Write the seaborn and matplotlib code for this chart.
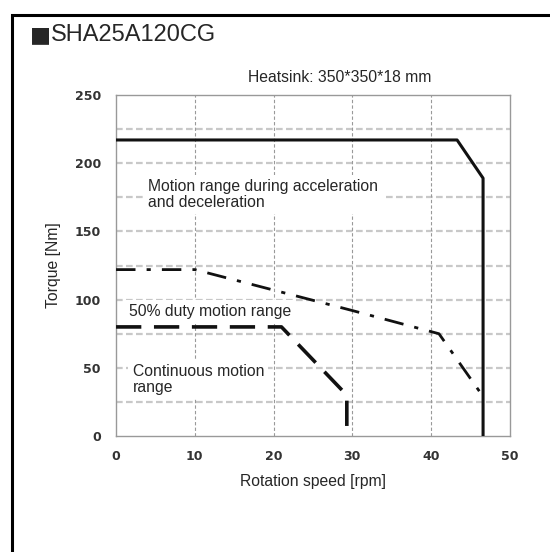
import numpy as np
import seaborn as sns
import matplotlib.pyplot as plt
from matplotlib.patches import Rectangle

sns.set_style("white")
plt.rcParams['font.family'] = ['Liberation Sans', 'DejaVu Sans']

# Motion range during acceleration and deceleration
accel_speed = [0, 43.3, 46.6, 46.6]
accel_torque = [217, 217, 189, 0]

# 50% duty motion range
duty_speed = [0, 10, 20, 30, 41, 46.6]
duty_torque = [122, 122, 107, 92, 75, 29]

# Continuous motion range
cont_speed = [0, 21, 29.3, 29.3]
cont_torque = [80, 80, 30, 0]

x_ticks = [0, 10, 20, 30, 40, 50]
y_ticks = [0, 50, 100, 150, 200, 250]
y_grid = [25, 50, 75, 100, 125, 150, 175, 200, 225]

fig = plt.figure(figsize=(5.5, 5.52), dpi=100)
ax = fig.add_axes([0.211, 0.21, 0.716, 0.618])

# outer frame (only top and left edges visible in the picture)
fig.patches.append(Rectangle((12 / 550, -0.1), 1.2, 1 - 15 / 552 + 0.1,
                             transform=fig.transFigure, fill=False,
                             edgecolor='black', lw=2.2))

ax.set_axisbelow(True)
for gy in y_grid:
    ax.axhline(gy, color='#c8c8c8', lw=1.6, linestyle=(0, (3, 1.5)), zorder=0.5)
for gx in x_ticks[1:-1]:
    ax.axvline(gx, color='#999999', lw=0.8, linestyle=(0, (3, 2)), zorder=0.5)

line_kw = dict(sort=False, estimator=None, errorbar=None, ax=ax,
               color='#111111', zorder=4)
sns.lineplot(x=accel_speed, y=accel_torque, lw=2.2, **line_kw)
sns.lineplot(x=duty_speed, y=duty_torque, lw=2.0,
             linestyle=(0, (7, 4, 1.5, 4)), **line_kw)
sns.lineplot(x=cont_speed, y=cont_torque, lw=2.6,
             linestyle=(0, (7, 3.5)), **line_kw)

ax.set_xlim(0, 50)
ax.set_ylim(0, 250)
ax.set_xticks(x_ticks)
ax.set_yticks(y_ticks)
ax.tick_params(length=0, labelsize=9, colors='#333333')
ax.tick_params(axis='y', pad=11)
ax.tick_params(axis='x', pad=10)
for lab in ax.get_xticklabels() + ax.get_yticklabels():
    lab.set_fontweight('bold')
    lab.set_family('DejaVu Sans')
for s in ax.spines.values():
    s.set_color('#999999')
    s.set_linewidth(1.0)

fs = 11.3
ax.set_xlabel('Rotation speed [rpm]', fontsize=fs, labelpad=8)
ax.set_ylabel('Torque [Nm]', fontsize=fs, labelpad=10)

box = dict(facecolor='white', edgecolor='none', pad=3)
ax.text(4.1, 177, 'Motion range during acceleration\nand deceleration',
        fontsize=fs, va='center', ha='left', bbox=box, zorder=3, linespacing=1.05)
ax.text(1.6, 91, '50% duty motion range', fontsize=fs, va='center',
        ha='left', bbox=box, zorder=3)
ax.text(2.1, 41.4, 'Continuous motion\nrange', fontsize=fs, va='center',
        ha='left', bbox=box, zorder=3, linespacing=1.05)

fig.text(340 / 550, 1 - 78 / 552, 'Heatsink: 350*350*18 mm', fontsize=fs,
         ha='center', va='center')
fig.text(30 / 550, 1 - 35 / 552, '■', fontsize=16, family='DejaVu Sans',
         ha='left', va='center')
fig.text(51 / 550, 1 - 35 / 552, 'SHA25A120CG', fontsize=17,
         ha='left', va='center')

fig.savefig('out.png', dpi=100)
